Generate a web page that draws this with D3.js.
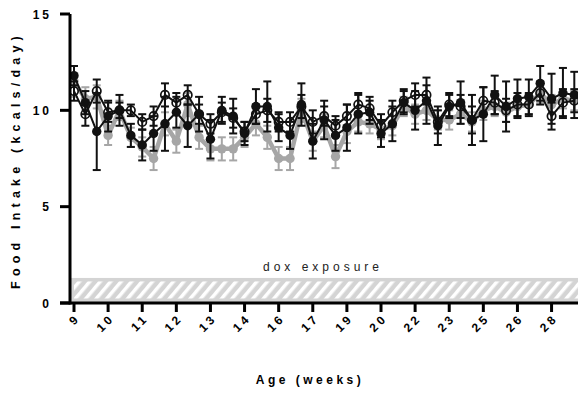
<!DOCTYPE html>
<html><head><meta charset="utf-8">
<script src="https://cdn.jsdelivr.net/npm/d3@7"></script>
<style>body{margin:0;background:#fff}svg{display:block}text{font-family:"Liberation Sans",Arial,sans-serif}</style>
</head><body><svg id="c" width="578" height="393"></svg>
<script>
const tickLabels = ["9","10","11","12","13","14","16","17","19","20","22","23","25","26","28"];
const tickEvery = 3;
const filled = [11.8,10.4,8.9,9.7,10.0,8.7,8.2,8.8,9.3,9.9,9.2,9.8,8.5,10.0,9.7,8.8,10.2,10.2,9.1,8.7,10.3,8.4,9.5,8.7,9.1,9.8,9.9,8.8,9.3,10.4,10.0,10.5,9.2,10.2,10.4,9.5,9.8,10.8,10.2,10.6,10.7,11.4,10.6,10.9,10.8];
const filledErr = [0.5,0.6,2.0,0.8,0.8,0.6,0.8,0.9,1.4,0.8,1.1,0.9,1.0,0.7,0.9,0.6,0.9,1.3,0.7,0.7,1.1,0.9,1.0,0.8,1.2,1.0,0.6,0.7,0.9,0.6,1.0,1.2,1.0,0.6,1.1,1.3,1.4,1.0,1.3,1.0,0.9,0.9,1.3,1.3,1.2];
const open = [11.0,9.8,11.0,9.9,10.0,10.0,9.4,9.7,10.8,10.4,10.8,9.8,9.3,9.9,9.6,8.9,9.8,10.0,9.4,9.4,10.2,9.4,9.7,9.2,9.7,10.3,10.1,9.2,9.9,10.5,10.8,10.8,9.4,10.3,10.2,9.5,10.5,10.4,10.0,10.3,10.3,10.9,9.7,10.4,10.5];
const openErr = [0.5,0.6,0.6,0.5,0.4,0.3,0.4,0.5,0.6,0.5,0.5,0.5,0.5,0.5,0.5,0.5,0.5,0.6,0.5,0.5,0.6,0.6,0.5,0.5,0.6,0.6,0.6,0.6,0.6,0.6,0.6,0.5,0.6,0.6,0.6,0.7,0.7,0.6,0.6,0.6,0.6,0.6,0.7,0.7,0.6];
const gray = [11.5,10.6,10.7,8.7,10.0,8.6,8.1,7.5,9.3,8.4,10.3,8.6,8.0,8.0,8.0,8.6,9.3,8.6,7.5,7.5,10.0,8.4,9.2,7.6,8.9,9.4,9.3,9.0,9.2,10.2,9.8,10.0,9.5,9.5,9.8,9.4,10.0,10.2,9.9,10.2,10.3,10.9,10.3,10.6,10.5];
const grayErr = [0.8,0.6,0.6,0.5,0.5,0.5,0.5,0.6,0.6,0.6,0.6,0.6,0.6,0.6,0.6,0.5,0.6,0.6,0.6,0.6,0.6,0.5,0.6,0.6,0.6,0.5,0.5,0.5,0.5,0.5,0.5,0.5,0.5,0.5,0.5,0.5,0.5,0.5,0.5,0.5,0.5,0.5,0.5,0.5,0.5];
const yTicks = [0,5,10,15];
const doxBand = [0, 1.3];
const doxLabel = "dox exposure";

const svg = d3.select("#c");
const x = d3.scaleLinear().domain([0, filled.length - 1]).range([74, 574.3]);
const y = d3.scaleLinear().domain([0, 15]).range([303, 14]);

const defs = svg.append("defs");
const pat = defs.append("pattern").attr("id","hatch").attr("patternUnits","userSpaceOnUse")
  .attr("width",8).attr("height",8).attr("patternTransform","rotate(40)");
pat.append("rect").attr("width",8).attr("height",8).attr("fill","#d4d4d4");
pat.append("rect").attr("x",0).attr("width",3.5).attr("height",8).attr("fill","#fff");

svg.append("rect").attr("x",71).attr("y",y(doxBand[1])).attr("width",578-71).attr("height",y(doxBand[0])-y(doxBand[1]))
  .attr("fill","#d4d4d4");
svg.append("rect").attr("x",74).attr("y",y(doxBand[1])+3.5).attr("width",578-74).attr("height",y(doxBand[0])-y(doxBand[1])-8)
  .attr("fill","url(#hatch)");
svg.append("text").attr("x",323).attr("y",271).attr("text-anchor","middle").attr("font-size",12)
  .attr("letter-spacing","4px").attr("fill","#222").text(doxLabel);

function drawSeries(vals, errs, color, lw, mode){
  const g = svg.append("g");
  const line = d3.line().x((d,i)=>x(i)).y(d=>y(d));
  g.append("path").datum(vals).attr("d",line).attr("fill","none").attr("stroke",color).attr("stroke-width",lw).attr("stroke-linejoin","round");
  const eb = g.selectAll(".eb").data(vals).enter().append("g");
  eb.append("line").attr("x1",(d,i)=>x(i)).attr("x2",(d,i)=>x(i)).attr("y1",(d,i)=>y(d+errs[i])).attr("y2",(d,i)=>y(d-errs[i]))
    .attr("stroke",color).attr("stroke-width",2);
  eb.append("line").attr("x1",(d,i)=>x(i)-4).attr("x2",(d,i)=>x(i)+4).attr("y1",(d,i)=>y(d+errs[i])).attr("y2",(d,i)=>y(d+errs[i]))
    .attr("stroke",color).attr("stroke-width",2);
  eb.append("line").attr("x1",(d,i)=>x(i)-4).attr("x2",(d,i)=>x(i)+4).attr("y1",(d,i)=>y(d-errs[i])).attr("y2",(d,i)=>y(d-errs[i]))
    .attr("stroke",color).attr("stroke-width",2);
  g.selectAll("circle").data(vals).enter().append("circle").attr("cx",(d,i)=>x(i)).attr("cy",d=>y(d))
    .attr("r", mode==="open"?4.2:4.7)
    .attr("fill", mode==="open"?"none":color)
    .attr("stroke", mode==="open"?color:"none").attr("stroke-width",1.7);
}
drawSeries(gray, grayErr, "#a6a6a6", 4.5, "filled");
drawSeries(open, openErr, "#111", 2, "open");
drawSeries(filled, filledErr, "#111", 2, "filled");

const ax = svg.append("g");
ax.append("line").attr("x1",70).attr("x2",70).attr("y1",y(15)).attr("y2",y(0)+1.5).attr("stroke","#000").attr("stroke-width",3);
ax.append("line").attr("x1",60).attr("x2",578).attr("y1",y(0)).attr("y2",y(0)).attr("stroke","#000").attr("stroke-width",3);
yTicks.forEach(t=>{
  ax.append("line").attr("x1",60).attr("x2",70).attr("y1",y(t)).attr("y2",y(t)).attr("stroke","#000").attr("stroke-width",3);
  ax.append("text").attr("x",52).attr("y",y(t)+4.5).attr("text-anchor","end").attr("font-size",12).attr("font-weight","bold")
    .attr("letter-spacing","3px").text(t);
});
tickLabels.forEach((lab,k)=>{
  const xi = x(k*tickEvery);
  ax.append("line").attr("x1",xi).attr("x2",xi).attr("y1",y(0)).attr("y2",y(0)+9).attr("stroke","#000").attr("stroke-width",3);
  ax.append("text").attr("transform",`translate(${xi+4},${y(0)+13}) rotate(-45)`).attr("text-anchor","end")
    .attr("font-size",12).attr("font-weight","bold").attr("letter-spacing","3px").attr("dy","0.35em").text(lab);
});
svg.append("text").attr("transform","translate(16,160) rotate(-90)").attr("text-anchor","middle").attr("font-size",12.5)
  .attr("font-weight","bold").attr("letter-spacing","5.2px").attr("dy","0.35em").text("Food Intake (kcals/day)");
svg.append("text").attr("x",310).attr("y",384).attr("text-anchor","middle").attr("font-size",12)
  .attr("font-weight","bold").attr("letter-spacing","3.5px").text("Age (weeks)");
</script></body></html>
